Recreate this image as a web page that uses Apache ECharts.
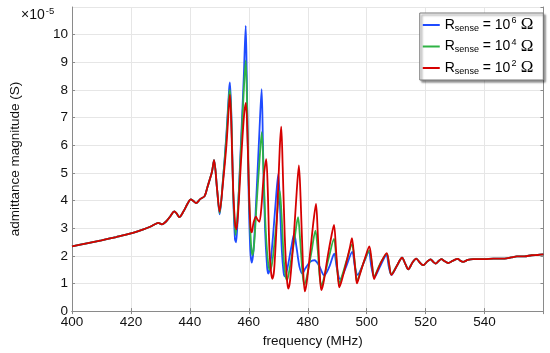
<!DOCTYPE html>
<html><head><meta charset="utf-8">
<script src="https://cdn.jsdelivr.net/npm/echarts@6/dist/echarts.min.js"></script>
<style>html,body{margin:0;padding:0;background:#fff}#c{width:550px;height:353px}</style>
</head><body><div id="c"></div>
<script>
// shared low-frequency part (all three curves coincide)
const baseFreq = [400, 405, 410, 415, 420, 424, 426.5, 428.3, 429.3, 430.5, 432, 433.5, 434.7, 435.6, 436.4, 437.8, 439.2, 440.3, 441.2, 442.1, 443.5, 445, 446.0, 447.5, 448.2, 449.2];
const baseVals = [2.34, 2.45, 2.56, 2.68, 2.81, 2.95, 3.05, 3.15, 3.19, 3.14, 3.25, 3.45, 3.61, 3.52, 3.40, 3.60, 3.88, 4.04, 3.98, 3.91, 4.05, 4.16, 4.50, 5.04, 5.46, 4.45];

// tail common to all three (above ~508 MHz)
const tailFreq = [510.3, 512.0, 513.1, 514.1, 515.5, 516.8, 518.1, 519.2, 520.6, 521.7, 522.6, 523.4, 524.4, 525.3, 526.5, 527.6, 529.2, 530.9, 531.8, 532.7, 534.3, 536.1, 540, 543, 546.8, 549, 551, 553.5, 556, 558, 560];
const tailVals = [1.65, 1.93, 1.71, 1.51, 1.75, 1.90, 1.75, 1.66, 1.80, 1.87, 1.78, 1.72, 1.81, 1.88, 1.80, 1.74, 1.82, 1.89, 1.82, 1.78, 1.85, 1.88, 1.88, 1.90, 1.90, 1.94, 1.98, 1.98, 2.02, 2.03, 2.05];

// R_sense = 10^6 Ohm
const freq6 = [450.1, 451.2, 452.4, 453.3, 453.6, 454.1, 454.7, 455.3, 455.7, 456.3, 457.3, 458.3, 458.95, 459.3, 459.9, 460.5, 461.0, 461.6, 462.5, 463.6, 464.35, 464.8, 465.5, 466.2, 466.6, 467.2, 468.2, 469.3, 470.0, 470.5, 471.2, 471.8, 472.2, 473.0, 474.4, 475.4, 476.2, 477.2, 478.2, 479.2, 480.8, 482.3, 483.8, 485.6, 487.3, 489.0, 489.8, 491.0, 493.0, 495.1, 496.0, 496.9, 498.8, 500.7, 501.6, 502.6, 504.7, 506.7, 507.5, 508.4];
const adm6 = [3.50, 4.70, 6.40, 8.00, 8.27, 7.00, 4.20, 2.60, 2.49, 3.60, 6.00, 8.50, 10.32, 8.50, 4.50, 2.20, 1.75, 2.20, 4.00, 6.50, 8.03, 6.00, 3.00, 1.60, 1.36, 1.60, 2.70, 4.20, 4.95, 4.00, 2.20, 1.40, 1.26, 1.50, 2.30, 2.79, 2.30, 1.60, 1.36, 1.55, 1.78, 1.84, 1.65, 1.29, 1.60, 2.08, 1.60, 1.15, 1.60, 2.14, 1.60, 1.31, 1.70, 2.14, 1.60, 1.22, 1.65, 2.03, 1.60, 1.31];

// R_sense = 10^4 Ohm
const freq4 = [450.1, 451.2, 452.4, 453.3, 453.6, 454.1, 454.7, 455.5, 456.3, 457.3, 458.3, 458.95, 459.4, 460.0, 460.7, 461.2, 461.8, 462.6, 463.6, 464.4, 465.0, 465.8, 466.6, 467.2, 468.0, 469.2, 470.5, 471.1, 471.9, 472.5, 473.0, 473.8, 475.5, 476.7, 477.4, 478.2, 478.8, 479.6, 481.2, 482.6, 483.4, 484.0, 484.6, 485.5, 487.3, 488.9, 489.6, 490.2, 490.7, 491.7, 493.4, 495.0, 495.8, 496.3, 496.7, 497.8, 499.3, 500.9, 501.8, 502.5, 504.5, 506.8, 507.6, 508.3];
const adm4 = [3.55, 4.70, 6.30, 7.80, 8.00, 6.90, 4.30, 2.75, 3.70, 5.80, 8.00, 9.07, 7.50, 4.50, 2.50, 2.02, 2.40, 3.80, 5.40, 6.47, 5.00, 2.80, 1.70, 1.48, 1.80, 3.00, 4.35, 3.50, 1.80, 1.25, 1.13, 1.50, 2.60, 3.40, 2.60, 1.40, 0.95, 1.20, 2.10, 2.91, 2.20, 1.30, 0.91, 1.20, 2.00, 2.61, 2.00, 1.30, 0.99, 1.30, 1.90, 2.41, 1.90, 1.40, 1.07, 1.40, 1.85, 2.20, 1.70, 1.25, 1.70, 2.07, 1.70, 1.33];

// R_sense = 10^2 Ohm
const freq2 = [450.1, 451.2, 452.4, 453.3, 453.6, 454.1, 454.7, 455.4, 455.8, 456.4, 457.4, 458.4, 459.0, 459.5, 460.1, 460.6, 461.0, 461.6, 462.4, 463.0, 463.6, 464.3, 465.0, 465.9, 466.4, 467.0, 467.6, 468.0, 468.6, 469.6, 470.5, 471.0, 471.5, 472.2, 472.9, 473.4, 474.0, 475.2, 476.3, 477.0, 477.6, 478.4, 479.0, 479.6, 480.9, 482.0, 482.8, 483.4, 484.1, 484.6, 485.3, 486.8, 488.0, 488.9, 489.6, 490.2, 490.7, 491.5, 493.2, 494.3, 495.0, 495.7, 496.3, 496.7, 497.6, 499.4, 500.9, 501.7, 502.5, 503.4, 505.3, 506.8, 507.6, 508.4];
const adm2 = [3.60, 4.60, 6.00, 7.50, 7.83, 6.60, 4.40, 3.10, 2.96, 3.60, 5.50, 7.10, 7.53, 6.50, 4.20, 3.00, 2.85, 3.20, 3.42, 3.30, 3.23, 3.80, 4.80, 5.50, 4.50, 2.20, 1.35, 1.17, 1.50, 3.50, 5.90, 6.67, 5.20, 2.70, 1.20, 0.81, 1.10, 2.60, 4.40, 5.27, 4.00, 1.60, 0.71, 1.00, 2.20, 3.30, 3.88, 2.80, 1.30, 0.76, 1.00, 2.00, 2.70, 3.12, 2.20, 1.30, 0.86, 1.10, 1.80, 2.30, 2.64, 2.00, 1.30, 1.00, 1.30, 1.90, 2.34, 1.80, 1.16, 1.40, 1.85, 2.10, 1.70, 1.31];

const seriesNames = ['R6', 'R4', 'R2'];
const exponents = {R6: '6', R4: '4', R2: '2'};
const colors = ['#1f4bff', '#2fb345', '#d60000'];

function pairs(fs, vs) {
  const f = baseFreq.concat(fs, tailFreq), v = baseVals.concat(vs, tailVals);
  return f.map((x, i) => [x, v[i]]);
}
const datasets = [pairs(freq6, adm6), pairs(freq4, adm4), pairs(freq2, adm2)];

const FONT = 'Liberation Sans';
const chart = echarts.init(document.getElementById('c'), null, {renderer: 'canvas'});
const axisLineStyle = {color: '#8a8a8a', width: 1};
chart.setOption({
  animation: false,
  backgroundColor: '#fff',
  grid: {left: 70.5, right: 6.5, top: 7, bottom: 38},
  xAxis: [{
    type: 'value', min: 400, max: 560, interval: 20,
    name: 'frequency (MHz)', nameLocation: 'middle', nameGap: 18,
    nameTextStyle: {fontFamily: FONT, fontSize: 13.5, color: '#111', padding: [0, 0, 0, 10]},
    axisLine: {lineStyle: axisLineStyle},
    axisTick: {inside: true, length: 3, lineStyle: axisLineStyle},
    axisLabel: {fontFamily: FONT, fontSize: 13.5, color: '#111', margin: 4, showMaxLabel: false},
    splitLine: {show: true, lineStyle: {color: '#e6e6e6', width: 1}}
  }, {
    type: 'value', min: 400, max: 560, interval: 20, position: 'top',
    axisLine: {lineStyle: axisLineStyle},
    axisTick: {inside: true, length: 3, lineStyle: axisLineStyle},
    axisLabel: {show: false}, splitLine: {show: false}
  }],
  yAxis: [{
    type: 'value', min: 0, max: 11, interval: 1,
    name: 'admittance magnitude (S)', nameLocation: 'middle', nameGap: 50,
    nameTextStyle: {fontFamily: FONT, fontSize: 13.5, color: '#111'},
    axisLine: {show: true, lineStyle: axisLineStyle},
    axisTick: {show: true, inside: true, length: 3, lineStyle: axisLineStyle},
    axisLabel: {fontFamily: FONT, fontSize: 13.5, color: '#111', margin: 4, showMaxLabel: false},
    splitLine: {show: true, lineStyle: {color: '#e6e6e6', width: 1}}
  }, {
    type: 'value', min: 0, max: 11, interval: 1, position: 'right',
    axisLine: {show: true, lineStyle: axisLineStyle},
    axisTick: {show: true, inside: true, length: 3, lineStyle: axisLineStyle},
    axisLabel: {show: false}, splitLine: {show: false}
  }],
  legend: {
    orient: 'vertical', right: 6.7, top: 13,
    data: seriesNames,
    backgroundColor: '#fff', borderColor: '#7a7a7a', borderWidth: 1,
    shadowColor: 'rgba(0,0,0,0.45)', shadowBlur: 2, shadowOffsetX: 2, shadowOffsetY: 2,
    padding: [2, 10, 2, 3], itemGap: 1.5,
    icon: 'rect', itemWidth: 17, itemHeight: 2,
    formatter: n => '{r|R}{s|sense}{r| = 10}{p|' + exponents[n] + '}{o| Ω}',
    textStyle: {
      fontFamily: FONT, fontSize: 14, color: '#000', lineHeight: 20,
      rich: {
        r: {fontFamily: FONT, fontSize: 14, color: '#000'},
        s: {fontFamily: FONT, fontSize: 9, color: '#000', padding: [7, 0, 0, 0]},
        p: {fontFamily: FONT, fontSize: 9, color: '#000', padding: [0, 0, 8, 1]},
        o: {fontFamily: 'Liberation Serif', fontSize: 17, color: '#000'}
      }
    }
  },
  graphic: [{
    type: 'text', left: 21, top: 6,
    style: {
      text: '{a|×10}{b|-5}',
      rich: {
        a: {fontFamily: FONT, fontSize: 14, fill: '#111'},
        b: {fontFamily: FONT, fontSize: 9.5, fill: '#111', padding: [0, 0, 8, 1]}
      }
    }
  }],
  series: datasets.map((d, i) => ({
    name: seriesNames[i], type: 'line', data: d,
    xAxisIndex: 0, yAxisIndex: 0,
    showSymbol: false, smooth: 0.3,
    lineStyle: {color: colors[i], width: 1.8},
    itemStyle: {color: colors[i]}
  }))
});
</script>
</body></html>
